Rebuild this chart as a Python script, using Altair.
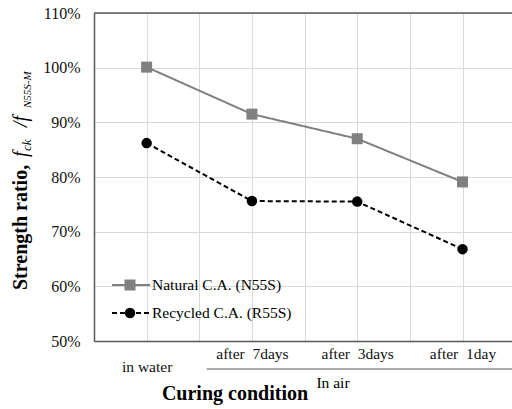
import altair as alt
import pandas as pd

# ---- data ----
categories = ["in water", "after \u00a07days", "after \u00a03days", "after \u00a01day"]
series_names = ["Natural C.A. (N55S)", "Recycled C.A. (R55S)"]
natural = [1.001, 0.915, 0.870, 0.791]
recycled = [0.862, 0.756, 0.755, 0.668]
y_ticks = [0.5, 0.6, 0.7, 0.8, 0.9, 1.0, 1.1]
x_grid = [-0.5, 0, 0.5, 1, 1.5, 2, 2.5, 3]
group_label = "In air"
x_title = "Curing condition"

SERIF = "Liberation Serif"
GRID = "#d9d9d9"
AXIS = "#595959"

rows = []
for i, c in enumerate(categories):
    rows.append({"pos": i, "cat": c, "series": series_names[0], "ratio": natural[i]})
    rows.append({"pos": i, "cat": c, "series": series_names[1], "ratio": recycled[i]})
df = pd.DataFrame(rows)

label_expr = " : ".join(
    f"datum.value == {i} ? '{c}'" for i, c in enumerate(categories)
) + " : ''"

xscale = alt.Scale(domain=[-0.5, 3.47], nice=False, zero=False)
yscale = alt.Scale(domain=[0.5, 1.1], nice=False, zero=False)

x_axis = alt.Axis(
    values=x_grid, labelExpr=label_expr, grid=True, gridColor=GRID, gridWidth=1,
    tickSize=0, domainColor=AXIS, domainWidth=1.5, labelFont=SERIF,
    labelFontSize=15.5, labelColor="#111111", labelBaseline="alphabetic",
    labelPadding={"condition": {"test": "datum.value == 0", "value": 30}, "value": 17.5},
    labelFlush=False, labelOverlap=False, labelBound=False, title=None,
)
y_axis = alt.Axis(
    values=y_ticks, format=".0%", grid=True, gridColor=GRID, gridWidth=1,
    tickSize=0, domainColor=AXIS, domainWidth=1.5, labelFont=SERIF,
    labelFontSize=16, labelColor="#111111", labelPadding=14, title=None,
)

color_scale = alt.Scale(domain=series_names, range=["#808080", "#000000"])
dash_scale = alt.Scale(domain=series_names, range=[[1, 0], [5, 3]])
shape_scale = alt.Scale(domain=series_names, range=["square", "circle"])
size_scale = alt.Scale(domain=series_names, range=[121, 110])

base = alt.Chart(df)

lines = base.mark_line(strokeWidth=2).encode(
    x=alt.X("pos:Q", scale=xscale, axis=x_axis, title=None),
    y=alt.Y("ratio:Q", scale=yscale, axis=y_axis, title=None),
    color=alt.Color("series:N", scale=color_scale, legend=None),
    strokeDash=alt.StrokeDash("series:N", scale=dash_scale, legend=None),
    detail="series:N",
)

points = base.mark_point(filled=True, opacity=1).encode(
    x=alt.X("pos:Q", scale=xscale),
    y=alt.Y("ratio:Q", scale=yscale),
    color=alt.Color("series:N", scale=color_scale, legend=None),
    shape=alt.Shape("series:N", scale=shape_scale, legend=None),
    size=alt.Size("series:N", scale=size_scale, legend=None),
)

one = pd.DataFrame({"k": [0]})

top_rule = alt.Chart(one).mark_rule(color=AXIS, strokeWidth=1.5).encode(
    y=alt.datum(1.1, scale=yscale)
)

bracket = alt.Chart(one).mark_rule(color=AXIS, strokeWidth=1).encode(
    x=alt.datum(0.57), x2=alt.datum(3.47), y=alt.value(356)
)


def txt(s, x, y, size, weight="normal", style="normal", angle=0, align="center",
        baseline="alphabetic"):
    return alt.Chart(pd.DataFrame({"t": [s]})).mark_text(
        font=SERIF, fontSize=size, fontWeight=weight, fontStyle=style, angle=angle,
        align=align, baseline=baseline, color="#000000",
    ).encode(x=alt.value(x), y=alt.value(y), text="t:N")


texts = [
    txt(group_label, 239, 375, 15.5),
    txt(x_title, 141, 387, 20, weight="bold"),
    # y title pieces (rotated)
    txt("Strength ratio,", -67, 277, 20, weight="bold", angle=270, align="left"),
    txt("f", -67, 144, 20, style="italic", angle=270, align="left"),
    txt("ck", -63, 138, 13, style="italic", angle=270, align="left"),
    txt("/f", -67, 114, 20, style="italic", angle=270, align="left"),
    txt("N55S-M", -63, 95, 11, style="italic", angle=270, align="left"),
]

# ---- manual legend ----
leg_layers = []
leg_rows = [272, 300]
leg_colors = ["#808080", "#000000"]
leg_dash = [[1, 0], [5, 3]]
leg_shapes = ["square", "circle"]
leg_sizes = [121, 110]
for i, name in enumerate(series_names):
    yy = leg_rows[i]
    leg_layers.append(
        alt.Chart(one).mark_rule(color=leg_colors[i], strokeWidth=2, strokeDash=leg_dash[i]).encode(
            x=alt.value(18), x2=alt.value(56), y=alt.value(yy)
        )
    )
    leg_layers.append(
        alt.Chart(one).mark_point(filled=True, opacity=1, shape=leg_shapes[i],
                                  size=leg_sizes[i], color=leg_colors[i]).encode(
            x=alt.value(36), y=alt.value(yy)
        )
    )
    leg_layers.append(txt(name, 58, yy, 15.5, align="left", baseline="middle"))

chart = alt.layer(lines, points, top_rule, bracket, *texts, *leg_layers).properties(
    width=418, height=328,
    padding={"left": 94, "top": 13, "right": 0, "bottom": 68},
    autosize=alt.AutoSizeParams(type="none"),
).configure_view(stroke=None).configure(background="white")

chart.save("out.html", embed_options={"renderer": "svg", "actions": False})
